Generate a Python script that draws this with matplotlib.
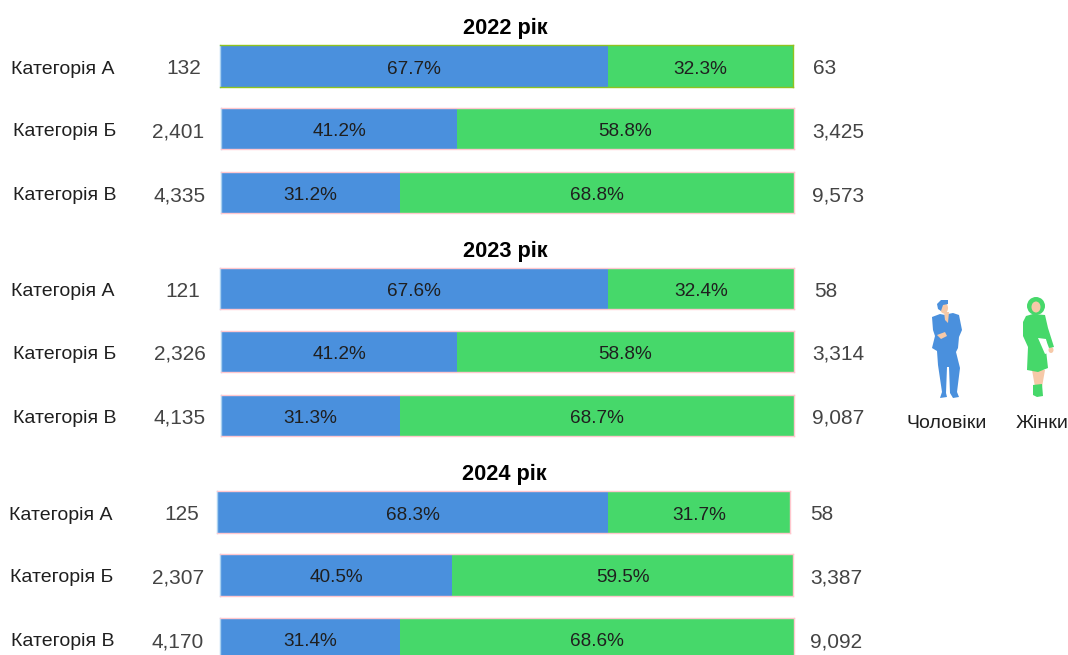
import matplotlib
matplotlib.use("Agg")
import matplotlib.pyplot as plt
from matplotlib.patches import Polygon, Ellipse

plt.rcParams['font.family'] = ['Liberation Sans', 'DejaVu Sans']

W, H = 1068, 655

years = ["2022 рік", "2023 рік", "2024 рік"]
categories = ["Категорія А", "Категорія Б", "Категорія В"]

# per year, rows A B C
men_pct = [[67.7, 41.2, 31.2], [67.6, 41.2, 31.3], [68.3, 40.5, 31.4]]
women_pct = [[32.3, 58.8, 68.8], [32.4, 58.8, 68.7], [31.7, 59.5, 68.6]]
men_count = [[132, 2401, 4335], [121, 2326, 4135], [125, 2307, 4170]]
women_count = [[63, 3425, 9573], [58, 3314, 9087], [58, 3387, 9092]]

BLUE = "#4a90dd"
GREEN = "#46d86a"
SKIN = "#f6c9a8"
DARK = "#1f1f1f"
GREY = "#444444"

# pixel layout of each row: bar left, bar right, bar top, bar bottom
rows_px = [
    [(220, 793, 45, 87), (221, 794, 108, 149), (221, 794, 172, 213)],
    [(220, 794, 268, 309), (221, 794, 331, 372), (221, 794, 395, 436)],
    [(217, 790, 491, 533), (220, 793, 554, 596), (220, 794, 618, 659)],
]
label_cx = [[62.5, 65, 65], [62.5, 65, 65], [60.5, 62, 63]]
men_right = [[201, 204, 206], [200, 206, 206], [199, 204, 204]]
women_left = [[813, 812, 812], [814, 812, 812], [810, 810, 810]]
title_px = [(505.5, 26), (505.5, 249), (504.5, 472)]
edge_colors = [["#8fc31f", "#ffc7ce", "#ffc7ce"],
               ["#ffc7ce", "#ffc7ce", "#ffc7ce"],
               ["#ffc7ce", "#ffc7ce", "#ffc7ce"]]

fig = plt.figure(figsize=(W / 100, H / 100), dpi=100, facecolor="white")


def fx(x):
    return x / W


def fy(y):
    return 1 - y / H


for i, year in enumerate(years):
    fig.text(fx(title_px[i][0]), fy(title_px[i][1] + 2), year, ha="center", va="center",
             fontsize=15.7, fontweight="bold", color="black")
    for j, cat in enumerate(categories):
        left, right, top, bottom = rows_px[i][j]
        mid = (top + bottom) / 2
        ax = fig.add_axes([fx(left), fy(bottom), fx(right - left), (bottom - top) / H])
        m = men_pct[i][j]
        w = women_pct[i][j]
        ax.barh(0, m, height=1, color=BLUE, edgecolor="none")
        ax.barh(0, w, left=m, height=1, color=GREEN, edgecolor="none")
        ax.set_xlim(0, m + w)
        ax.set_ylim(-0.5, 0.5)
        ax.set_xticks([])
        ax.set_yticks([])
        for side in ax.spines.values():
            side.set_color(edge_colors[i][j])
            side.set_linewidth(1)
        ax.spines['left'].set_color("#a8d0f0")
        pct_y = fy(mid + 3)
        fig.text(fx(left + (right - left) * m / 200), pct_y, f"{m:.1f}%", ha="center", va="center",
                 fontsize=13.7, color=DARK, zorder=5)
        fig.text(fx(left + (right - left) * (m + w / 2) / 100), pct_y, f"{w:.1f}%", ha="center", va="center",
                 fontsize=13.7, color=DARK, zorder=5)

        fig.text(fx(label_cx[i][j]), fy(mid + 3), cat, ha="center", va="center", fontsize=14, color=DARK)
        fig.text(fx(men_right[i][j]), fy(mid + 3), f"{men_count[i][j]:,}", ha="right", va="center",
                 fontsize=15, color=GREY)
        fig.text(fx(women_left[i][j]), fy(mid + 3), f"{women_count[i][j]:,}", ha="left", va="center",
                 fontsize=15, color=GREY)

# pictograms drawn in a full figure overlay, in pixels
ov = fig.add_axes([0, 0, 1, 1], facecolor="none")
ov.set_xlim(0, W)
ov.set_ylim(H, 0)
ov.axis("off")

man_body = [(932, 317), (940, 314), (945, 315), (948, 314), (953, 313), (959, 315), (962, 330),
            (959, 337), (958, 348), (956, 352), (960, 368), (957, 392), (959, 397), (953, 398),
            (950, 393), (949, 367), (947, 367), (946, 393), (947, 397), (940, 398), (942, 392),
            (938, 365), (937, 351), (932, 348), (935, 336), (933, 330)]
ov.add_patch(Polygon(man_body, closed=True, color=BLUE, lw=0))
ov.add_patch(Polygon([(944, 312), (949, 312), (948, 323), (945, 320)], closed=True, color=SKIN, lw=0))
ov.add_patch(Ellipse((944, 308), 8, 11, color=SKIN, lw=0))
ov.add_patch(Polygon([(937, 304), (941, 300), (948, 300), (948, 304), (943, 305), (941, 311), (938, 309)], closed=True, color=BLUE, lw=0))
ov.add_patch(Polygon([(937, 335), (945, 332), (947, 336), (941, 339)], closed=True, color=SKIN, lw=0))

woman_legs = [(1032, 370), (1045, 370), (1042, 387), (1035, 387)]
ov.add_patch(Polygon(woman_legs, closed=True, color=SKIN, lw=0))
ov.add_patch(Ellipse((1051, 350), 5, 6, color=SKIN, lw=0))
woman_body = [(1026, 316), (1033, 314), (1045, 315), (1048, 328), (1054, 347), (1049, 348), (1046, 340),
              (1046, 350), (1048, 368), (1038, 372), (1027, 370), (1028, 347), (1023, 336), (1023, 322)]
ov.add_patch(Polygon(woman_body, closed=True, color=GREEN, lw=0))
ov.add_patch(Ellipse((1036, 306), 18, 18, color=GREEN, lw=0))
ov.add_patch(Ellipse((1036, 307), 9, 11, color=SKIN, lw=0))
ov.add_patch(Polygon([(1033, 385), (1042, 384), (1043, 396), (1037, 397), (1033, 395)], closed=True, color=GREEN, lw=0))
ov.add_patch(Polygon([(1038, 338), (1046, 339), (1048, 353), (1045, 354)], closed=True, color="white", lw=0))

fig.text(fx(947), fy(423), "Чоловіки", ha="center", va="center", fontsize=14, color=DARK)
fig.text(fx(1042.5), fy(424), "Жінки", ha="center", va="center", fontsize=14, color=DARK)

fig.savefig("out.png", dpi=100)
